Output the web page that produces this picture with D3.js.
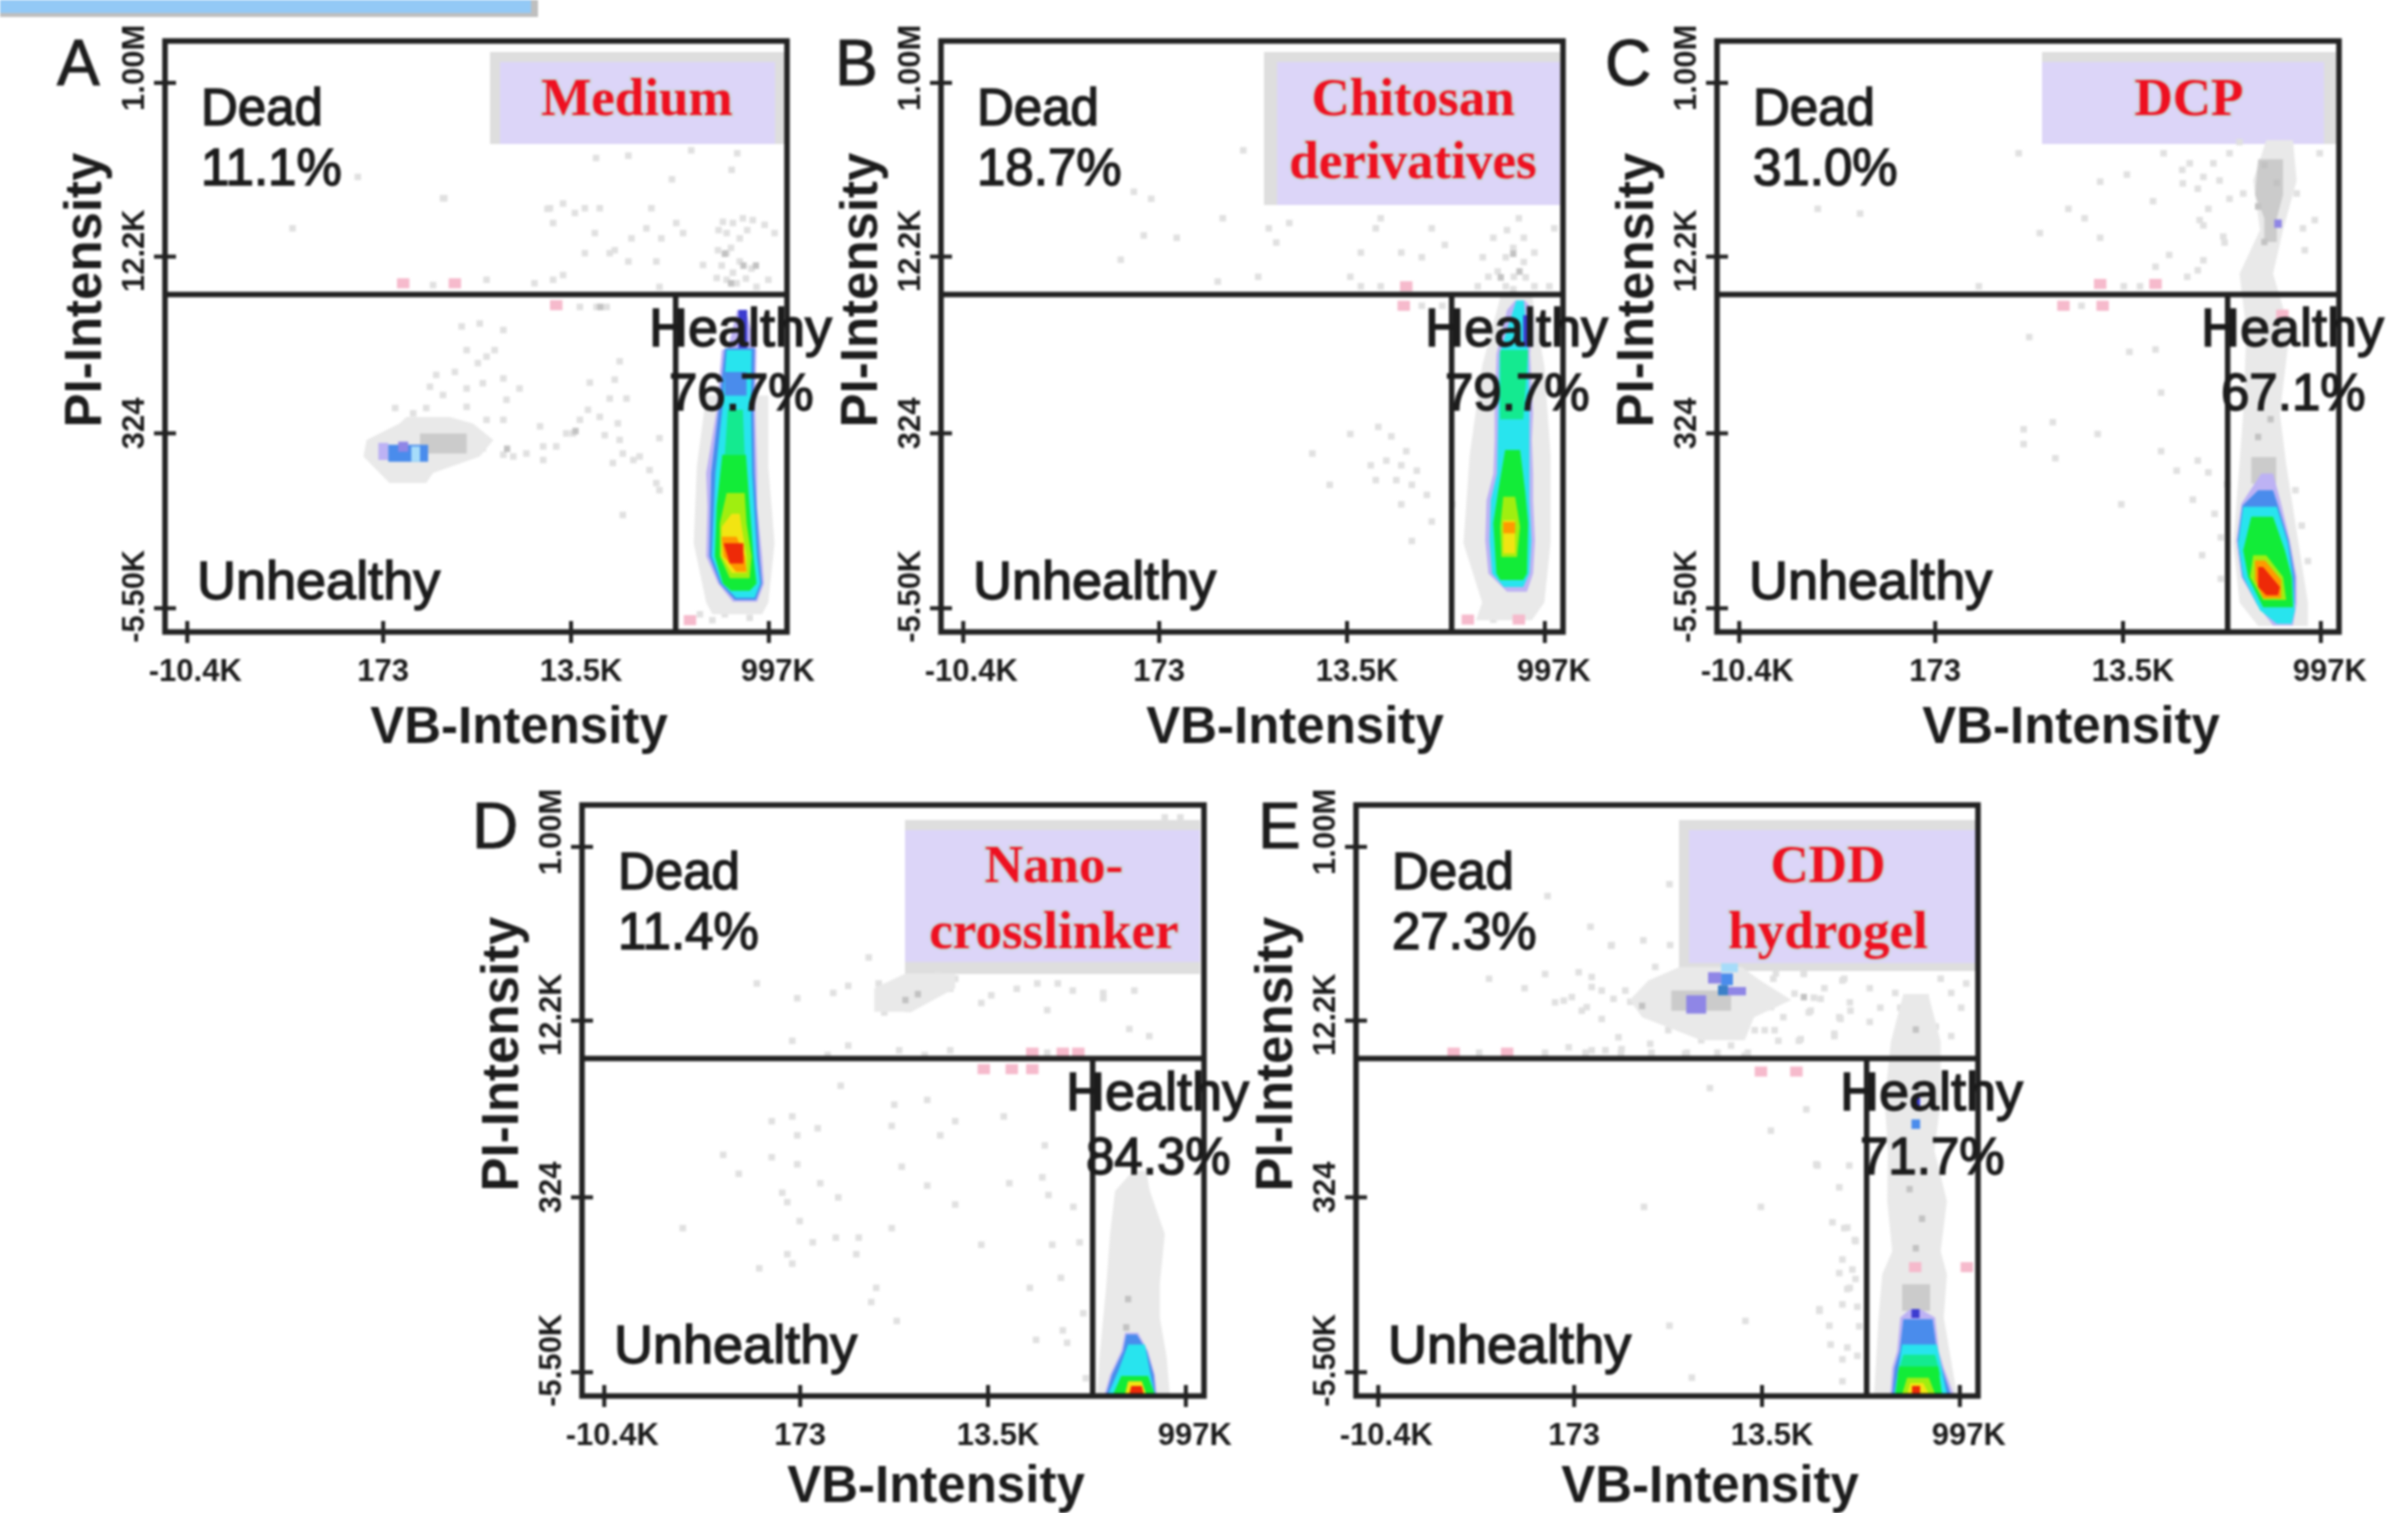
<!DOCTYPE html>
<html>
<head>
<meta charset="utf-8">
<script src="https://cdn.jsdelivr.net/npm/d3@7"></script>
<style>
html, body { margin: 0; padding: 0; background: #fff; }
svg { display: block; filter: blur(1px); }
text { font-family: "Liberation Sans", Arial, sans-serif; fill: #1c1c1c; }
</style>
</head>
<body>
<div id="chart"></div>
<script>
//data
//axes, all plots share the same channel positions (0-100 along each frame side)
var xTickValues = [3.5, 35, 65.2, 97],
    xTickLabels = ['-10.4K', '173', '13.5K', '997K'],
    yTickValues = [93, 63.6, 33.7, 4.1],
    yTickLabels = ['1.00M', '12.2K', '324', '-5.50K'];

var xGate = 82.1,
    yGate = 57.1;

var panelIds = ['A', 'B', 'C', 'D', 'E'],
    panelTreatments = [['Medium'], ['Chitosan', 'derivatives'], ['DCP'], ['Nano-', 'crosslinker'], ['CDD', 'hydrogel']],
    deadPercents = ['11.1%', '18.7%', '31.0%', '11.4%', '27.3%'],
    healthyPercents = ['76.7%', '79.7%', '67.1%', '84.3%', '71.7%'];

//single events [x, y]
var dotsA = [[44.7,73.4],[61.9,71.7],[64,72.5],[65.9,70.9],[67.5,71.7],[69.9,71.7],[62.4,69.2],[78.2,71.7],[69.1,67.5],[82.2,69.2],[83.3,67.5],[77.4,68.3],[75,66.6],[79.8,66.6],[72.3,64.6],[71.5,64.1],[67.5,64.1],[74.5,62.7],[79,62.7],[64,60.4],[62.4,59.6],[59.4,59],[51.7,59.6],[79.5,58.4],[86.5,62.1],
    [89.7,69.4],[91.3,69.2],[92.9,70],[94.5,69.7],[88.9,64.6],[90.3,64.1],[92.4,62.7],[94.3,61.5],[90.3,59.6],[91.9,59],[88.7,59.9],[95.1,58.4],[97,59.6],[98,67.5],[96.4,68.9],[90.3,67.5],[92.4,66.6],[89.5,62],[91.3,60.8],[93.4,59.8],[89,68],[93.6,68],[91,65],
    [69.3,80.2],[74.5,80.6],[92,81],[91.1,78.2],[61.5,71.6],[44.9,73.4],[31,77],[20.5,68.3],[84.6,81.5],[81.5,76.6],
    [54.4,35.9],[51.7,35.9],[60.3,34.8],[64.5,33.6],[66.7,35.9],[68,37.6],[69.9,36.4],[62.9,31.4],[60.8,31.4],[65.6,33.6],[58.1,30.2],[54.4,30],[56,29.7],[60.8,29.1],[51.1,31.1],[73.1,32.5],[73.6,30.2],[76.3,29.7],[77.9,27.4],[79,25.2],[79.5,24],[75.3,29.1],[72,28.6],[79.5,32.8],[72.8,35.3],[70.7,33.3],[73.1,45.8],[72.3,42.7],[68.3,42.2],[74.2,39.5],[71.5,39.5],[57,41.2],[54.9,39.3],[54.4,42.9],[51.1,42.1],[48.5,41.2],[46.6,44],[43.6,43.5],[44.7,40.1],[48.5,38.1],[42.6,41.5],[39.9,37],[37,37.9],[42,37.9],[50.3,45.5],[51.7,46.6],[53,47.7],[48.5,47.7],[50.6,52.2],[47.7,51.7],[54.4,51.1],[73.6,19.8],
    [43.1,58.7],[66.7,55],[69.4,55],[71,55],[88,2],[86,3],[90,3],[94,2.4]];
var dotsB = [[92.9,70],[93.7,66.7],[90.8,63.4],[93.7,62.6],[88.8,66.7],[87.1,63.4],[95.4,64.2],[92.1,60.1],[90.8,58.5],[88,60.1],[86.3,58.5],[95.4,58.5],[97.8,58.5],[78.9,68.3],[81,65.5],[77.3,63.4],[69.9,68.3],[67.5,64.2],[65.8,60.1],[74,64.2],[56,69.2],[52.7,68.3],[53.9,65.9],[45.3,70],[48.6,81.5],[37.9,66.7],[32.6,67.1],[28.9,63],[33.8,73.3],[31,74.5],[70.7,70],[44.5,59.3],[51,60.1],[98.6,68.3],[91,68],[92,65],[89.5,61],[94,60],[92,58],
    [70.3,34.7],[72.4,33.1],[74.8,30.6],[74,28.2],[71.6,29],[69.9,25.7],[73.2,25.7],[75.7,24.9],[69.1,28.2],[78.1,23.2],[76.5,27.3],[59.7,30.2],[65.8,33.5],[62.5,24.9],[74,21.6],[82.2,21.6],[78.9,18.7],[75.7,15.4],[67.5,58.5],[70.7,58.5],[77.3,55.2],[80.6,55.2],[88.8,2.1]];
var dotsC = [[76,79.3],[79.8,79.3],[82.4,81],[84,82.9],[78.2,77],[80.8,76.4],[77.3,75],[79,71.6],[77.6,69.7],[81.4,66.9],[82.4,73.3],[84.6,74.2],[96.1,69.7],[94.5,64.6],[94.2,68.3],[96.9,81],[93.2,74.2],[78.2,62.9],[77.3,61.2],[74.9,75.9],
    [48.5,81],[61.6,76.2],[65.9,77.4],[71.8,81],[74.8,78.2],[70.1,72.9],[56.5,71.6],[59.1,70],[51.9,67.5],[61.6,66.7],[72.7,63.8],[23,70.8],[16.2,71.6],[78.2,68.8],[75.6,60.1],[70.5,61.8],[81.6,65.9],[42.1,58.5],
    [50.2,49.9],[66.3,47.4],[70.5,47.8],[71.4,40.5],[54,35.5],[49.3,34.3],[49.3,31.8],[54.4,29.4],[71.4,30.6],[73.9,27.3],[65,21.6],[76.5,22.4],[77.3,29],[61.2,33.5],[65.4,58.5],[68,58.5],[58.6,55.2],[80,20],[82,25],[79,27],[81,16],[78,13],[81,9],[94,18],[95,12],[93,24],[92,7]];
var dotsD = [[47.7,69.8],[51,66.5],[53.5,68.2],[56,69.8],[59.2,68.9],[48.6,64.9],[60,70.6],[57.2,71.4],[51,69.8],[54.7,67.3],[49.4,68.2],[50,66],[52.5,65.5],[55,70],
    [34.6,67.3],[40.4,68.2],[42.8,69.4],[46.1,74.2],[28.1,69.8],[74.8,65.3],[69.9,68.9],[65.8,67.8],[64.2,66.5],[73.2,69.8],[78.9,68.6],[83.8,68.2],[88,62.1],[91.2,60.9],[83.8,67.3],[93.7,97.9],[96.2,97.9],[76.5,69.8],[33.8,60.1],[42.8,59.3],[51,58.5],[55.1,57.7],[39.5,57.7],[59.2,58.5],[88.8,68.6],[74.8,58.1],
    [41.6,52.5],[33.8,47.3],[30.5,46.5],[34.6,44.1],[37.9,45.3],[50.2,49.3],[55.5,50.1],[49.8,45.7],[57.6,44.1],[60,46.5],[67.8,47.3],[74.4,42.4],[22.7,40.8],[30.5,40.4],[34.6,39.2],[32.2,34.4],[38.3,36],[33,32.8],[25.2,37.6],[55.5,35.6],[60,32.4],[68.7,36],[35,29.6],[16.2,28.4],[49.8,28.4],[37.1,26],[40.8,26.8],[44.5,26.8],[33,24],[44.1,24],[64.2,25.6],[28.5,21.6],[33.8,22.4],[47.3,18.3],[75.6,25.6],[50.6,12.7],[46.5,15.9],[72,18.3],[77.3,11.1],[41.2,33.6],[51.4,38.8],[74,37],[75,34],[79,32],[80,26],[77,20],[80.6,14],[78,9],[73,9.5],[81,3]];
var dotsE = [[35.8,71.7],[37.9,70.9],[41.1,76.3],[46.2,77.1],[50.5,76.3],[33.4,66.9],[36.3,65.2],[39.5,63.8],[34.2,59],[37.9,58.5],[42.2,60.7],[47.3,59.6],[50.2,61.9],[55.5,60.2],[60.3,59.3],[62.5,57.6],[65.7,61.9],[71.5,60.4],[76.9,61.3],[79.5,65.2],[73.1,65.2],[78.2,70.3],[72,71.5],[67.5,71.5],[74.7,67.2],[77.9,63.8],[43.3,68.6],[39.5,68.6],[44.1,66.7],[48.1,72.6],[45.7,66.9],[37.9,69.2],[34.7,67.5],[37.1,65.8],[41.4,67.2],[70.5,68.1],[66.7,65.8],[67.3,61.9],[58.2,63.5],[60.9,62.4],[64.1,61.9],[52.9,57.9],[42.7,58.7],[40.1,58.5],[51.3,63],
    [67.1,70.6],[72,71.4],[73.6,67.4],[78.5,70.6],[82.6,69],[86.7,68.2],[91.6,67.4],[95.7,68.2],[97.3,65.7],[93.2,62.5],[88.3,63.3],[82.6,63.3],[77.7,64.1],[72.8,64.9],[68.7,64.1],[76.9,60.9],[71.2,60.1],[95.7,60.9],[98.1,69.8],[94,70.6],[87.5,65.7],[79.4,66.6],[84.3,65.7],[90.8,64.1],[75.3,69],[67.9,60.1],
    [30.8,84.6],[30.4,71.4],[21.4,70.6],[37.7,79.4],[32,66.6],[41,76.2],[50.4,86.6],[27.1,69],
    [56.9,52.1],[66.7,44.9],[72.4,48.5],[46.3,32],[65.1,32],[74,39.2],[78.5,28.4],[80.2,26.4],[74.5,14.7],[62.6,12.7],[54,3.1],[50.4,11.9],[76.1,11.9],[80.6,15.1],[77.7,20.8],[79.4,18.3],
    [19.8,58.1],[30.4,58.1],[36.9,58.1],[42.6,58.1],[47.5,58.1],[53.2,58.1],[58.1,58.1],[63,58.1],
    [74.2,39],[79.3,39],[77.7,35.3],[76.6,29.4],[79,28.5],[80.3,26.2],[78.2,23.1],[79.8,21.4],[80.3,19.8],[79,18.1],[78.2,15.5],[74.5,14.4],[80.9,11.8],[76.3,8.7],[79,8.2],[78.2,6.2],[80.6,6.8],[78.2,2.5]];

//darker grey events
var darkA = [[93,62],[91,59],[90,64],[95,62],[66,34],[55,31],[70,55]];
var darkB = [[92,64],[90,60],[93,61]];
var darkC = [[88,79],[90,76],[87,72],[88,66],[89,36],[87,33]];
var darkD = [[87.8,16.4],[87.5,11.6],[52,67],[54,68]];
var darkE = [[72,67.5],[46,66],[90,62],[89,35],[91,30],[90,25]];

//pink events
var pinkA = [[38.3,59],[46.6,59],[62.9,55.3],[84.4,2]];
var pinkB = [[74.8,58.5],[74.4,55.2],[84.7,2.1],[92.9,2.1]];
var pinkC = [[61.6,58.9],[70.5,58.9],[55.7,55.2],[62,55.2],[90.9,53.7]];
var pinkD = [[72.4,58.1],[77.3,58.1],[79.8,58.1],[64.6,55.3],[69.1,55.3],[72.4,55.3]];
var pinkE = [[15.7,58.1],[24.3,58.1],[65.1,54.9],[70.8,54.9],[89.9,21.8],[98.2,21.8]];

//density contours: [level, rows of [y, xLow, xHigh]], lower levels first
var densityA = [
    ['halo', [[40,87,97],[28,85.5,97],[15,85,98],[5,87,97],[3,88,96]]],
    ['halo', [[36.4,38.8,45.8],[35.3,37.7,49.5],[32.5,32.4,52.8],[29.7,31.9,50.6],[26.9,34.5,43.1],[25.2,36.1,42]]],
    ['shade', [[33.6,41,48.5],[30.2,41,48.5]]],
    ['lavender', [[32,34.3,35.9],[29.1,34.3,35.9]]],
    ['blue', [[31.7,35.9,42.3],[28.8,35.9,42.3]]],
    ['violet', [[32.2,37.5,39.1],[30.5,37.5,39.1]]],
    ['sky', [[31.4,39.6,41],[28.8,39.6,41]]],
    ['lavender', [[54.5,92,93.4],[48,90.5,95],[47.7,89.5,95.1],[37.6,88.7,94.9],[26.9,87,95.2],[21.2,87.2,95.2],[12.8,87,96],[8.2,88.9,96.3],[5.1,91.3,95.2]]],
    ['navy', [[54.5,92.2,93.6],[48,92.2,93.6]]],
    ['blue', [[48,90,94.8],[37.6,89,94.6],[26.9,87.8,94.8],[12.8,87.5,95.6],[8.2,89.2,96],[5.4,91.6,95]]],
    ['cyan', [[47.7,90.3,94.3],[37.6,89.6,94.2],[26.9,88.5,94.4],[12.8,87.9,95.2],[8.2,89.5,95.7],[5.8,91.8,94.8]]],
    ['blue', [[44,90,93.5],[40,90,93.5]]],
    ['spring', [[37.6,90.5,92.9],[30,90,93.2]]],
    ['green', [[30,89.6,93.4],[21.2,88.7,94],[12.8,88.4,94.6],[8.2,89.7,95.1],[7,91,94]]],
    ['lime', [[23.5,90.3,93.2],[18.4,89.2,93.5],[12.8,89.2,94.3],[9.1,90.8,94]]],
    ['yellow', [[20,91.1,92.4],[17.8,89.5,92.7],[12.8,89.5,93.5],[10,91.1,93.5]]],
    ['orange', [[16.1,89.5,91.9],[12.8,89.8,93.2],[10.2,91.8,93.5]]],
    ['red', [[15,89.8,93],[11.6,90.8,93]]]
];
var densityB = [
    ['halo', [[57,90,95],[45,87,97],[30,85,98],[15,84,98],[5,87,97],[2,86,95]]],
    ['lavender', [[56.1,92.3,93.9],[54.5,91,95.2],[47.1,89.3,94.7],[37,89,95.2],[32.5,89,95],[26.8,88.8,95.2],[22.3,87.7,95.2],[15.5,87.5,95.5],[9.9,88,95.2],[6.8,91,94.2]]],
    ['cyan', [[56.1,92.5,93.7],[47.1,89.8,94.4],[37,89.6,94.6],[26.8,89.4,94.6],[22.3,88.4,94.6],[15.5,88.2,94.9],[9.9,88.6,94.6],[7.6,90.5,93.6]]],
    ['navy', [[53.6,93.6,95.2],[48.3,93.6,95.2]]],
    ['spring', [[47.7,89.9,94.4],[35.8,89.9,93.6]]],
    ['cyan', [[36,89.6,94.6],[31.5,89.8,94.2]]],
    ['green', [[30.8,90.7,93.1],[24,89.6,93.9],[18.4,88.8,94.4],[9.9,89.3,94.2],[8.8,89.9,93.6]]],
    ['lime', [[22.9,90.4,92.3],[17.8,89.9,93.1],[12.7,90.1,92.6]]],
    ['yellow', [[18.9,90.4,92.3],[13.3,90.4,92.3]]],
    ['orange', [[18.6,90.4,92.3],[16.7,90.4,92.3]]]
];
var densityC = [
    ['halo', [[83.2,88.3,92.6],[76.4,86.2,93.2],[68,87.3,91],[60.6,84,89.4],[51,85.1,92.1],[37,84.6,90.5],[28.5,84,91.5],[15,83,93.5],[5,84,95],[1,87,95]]],
    ['shade', [[80,87,91],[74,86.5,91],[70,88,90],[66,88,90]]],
    ['shade', [[29.6,85.9,89.9],[25.1,85.9,89.9]]],
    ['violet', [[69.8,89.6,90.8],[68.4,89.6,90.8]]],
    ['lavender', [[26.8,87.5,89.4],[21.7,84.3,90.7],[15.5,83.5,92.1],[9.3,84.3,93.2],[4.8,86.7,93.2],[1.1,89.4,92.6]]],
    ['blue', [[24,87,89.4],[21.4,84.5,90.2],[15.5,83.7,91.9],[9.3,84.5,92.9],[4.8,87,92.9]]],
    ['cyan', [[21.2,84.6,90],[15,83.8,91.8],[9.3,84.6,92.6],[3.7,87.3,92.9],[1.4,90,92.4]]],
    ['green', [[19.5,85.9,89.4],[13.8,84.6,91.3],[9.3,85.4,92.4],[4.2,87.8,92.6]]],
    ['lime', [[13,86.2,88.3],[9.3,85.7,91],[5.4,87.8,91.5]]],
    ['orange', [[12.1,86.5,88.1],[8.8,86.5,90.7],[5.7,87.8,90.7]]],
    ['red', [[11,87,87.8],[7.6,87,90.5],[6.2,88.3,90.2]]]
];
var densityD = [
    ['halo', [[38.1,88.6,90.7],[34.7,85.7,91.3],[27.4,84.9,93.7],[18.9,84.3,92.9],[13.3,83.8,92.9],[6.5,83.2,94],[0.3,82.8,94.5]]],
    ['halo', [[71.5,52,60],[69,47,60],[65,47,53]]],
    ['lavender', [[10.7,87.3,89.4],[7.6,86.7,91],[3.6,84.9,92.1],[0.3,84,92.4]]],
    ['blue', [[10.4,87.5,89.2],[7.6,87,90.8],[3.6,85.2,91.9],[0.3,84.3,92.2]]],
    ['cyan', [[8.7,87.8,90.5],[4.2,86.2,91.3],[0.3,84.6,92.1]]],
    ['green', [[3.4,86.7,91],[0.3,85.4,92.1]]],
    ['yellow', [[2.5,87.8,90],[0.3,87.3,90.7]]],
    ['red', [[1.7,88.3,90],[0.3,88,90.3]]]
];
var densityE = [
    ['halo', [[68,88,92],[60,86,94],[50,85,94],[41.5,85.5,93],[33,85.4,95],[24.5,86.2,94],[20.6,84.6,95],[13.3,84,94.5],[0.3,83.3,96.6]]],
    ['halo', [[72.6,52,62],[70.3,47,65],[67,44,70],[64.1,46,64],[60.2,55.5,62.5]]],
    ['shade', [[68.6,50.7,60.3],[65.2,50.7,60.3]]],
    ['shade', [[18.9,87.8,92.3],[14.4,87.8,92.3]]],
    ['navy', [[50.5,89.3,90.7],[48.9,89.3,90.7]]],
    ['blue', [[46.8,89.3,90.7],[45.2,89.3,90.7]]],
    ['sky', [[73.2,58.7,61.4],[71.7,58.7,61.4]]],
    ['violet', [[71.7,56.6,58.7],[69.8,56.6,58.7]]],
    ['violet', [[69.2,59.8,62.7],[67.8,59.8,62.7]]],
    ['violet', [[67.8,53.1,56.3],[64.7,53.1,56.3]]],
    ['blue', [[71.5,58.7,60.6],[69.5,58.7,60.6]]],
    ['navy2', [[69.5,58.2,59.8],[67.8,58.2,59.8]]],
    ['lavender', [[14.7,89.1,90.7],[13.3,87.5,93.1],[7.6,87,93.7],[4.8,86.2,94.5],[0.3,85.9,96.1]]],
    ['navy', [[14.7,89.3,90.6],[13.2,89.3,90.6]]],
    ['blue', [[13,88,92.7],[7.6,87.4,93.4],[4.8,86.6,94.2],[0.3,86.2,95.6]]],
    ['cyan', [[8.7,87.8,93.4],[0.3,86.5,95]]],
    ['spring', [[7,88,93.1],[3.5,87,94]]],
    ['green', [[5,87.3,93.6],[0.3,86.7,94.2]]],
    ['lime', [[3.1,88.6,92.1],[0.3,87.8,93.1]]],
    ['yellow', [[2.2,89.1,91.2],[0.3,88.6,92.1]]],
    ['red', [[1.7,89.4,90.7],[0.3,89.4,90.7]]]
];

var dotsByPanel = [dotsA, dotsB, dotsC, dotsD, dotsE],
    darkByPanel = [darkA, darkB, darkC, darkD, darkE],
    pinkByPanel = [pinkA, pinkB, pinkC, pinkD, pinkE],
    densityByPanel = [densityA, densityB, densityC, densityD, densityE];

//styles
var levelColors = {
    halo: '#e9e9e9', shade: '#cbcbcb', lavender: '#bdb2f4', violet: '#8f86e6', navy: '#3c3cd0', navy2: '#3a80c8',
    blue: '#4a8cec', sky: '#a6dcfa', cyan: '#28e4ee', spring: '#14ea90', green: '#12ec38', lime: '#a0ee10',
    yellow: '#f2e412', orange: '#ff9a00', red: '#ee2a08'
};

//sizes, one entry per panel
var outerW = 2408,
    outerH = 1513,
    frameW = 622,
    frameH = 591,
    panelPos = [[165, 41], [941, 41], [1717, 41], [582, 805], [1356, 805]],
    boxRect = [[325, 11, 620, 103], [323, 11, 619, 164], [325, 11, 619, 103], [323, 15, 618, 169], [323, 15, 621, 166]],
    boxInset = [[10, 0, 10, 0], [13, 0, 0, 0], [0, 0, 12, 0], [0, 0, 0, 12], [10, 0, 0, 8]],
    treatmentY = [[74, 137], [74, 137], [74, 137], [77, 143], [77, 143]],
    idX = [-108, -106, -112, -110, -98],
    idY = [44, 44, 44, 43, 43],
    xTitleY = [111, 111, 111, 106, 106],
    xLabelDx = [8, 0, 10, 9],
    yLabelDy = [-15, -6, -10, -12];

var svg = d3.select('#chart').append('svg')
    .attr('width', outerW)
    .attr('height', outerH);

function buildCornerBar() {
    svg.append('rect').attr('x', 0).attr('y', 0).attr('width', 538).attr('height', 17).attr('fill', '#bfbfbf');
    svg.append('rect').attr('x', 0).attr('y', 0).attr('width', 531).attr('height', 13).attr('fill', '#93c9f6');
}

function addCells(g, data, color, w, h, xScale, yScale) {
    g.selectAll(null)
        .data(data)
        .enter()
        .append('rect')
        .attr('x', function(d) { return xScale(d[0] - w / 2); })
        .attr('y', function(d) { return yScale(d[1] + h / 2); })
        .attr('width', function() { return xScale(w) - xScale(0); })
        .attr('height', function() { return yScale(0) - yScale(h); })
        .attr('fill', color);
}

function addLabel(g, x, y, str, size) {
    return g.append('text')
        .attr('x', x)
        .attr('y', y)
        .attr('font-size', size)
        .attr('stroke', '#1c1c1c')
        .attr('stroke-width', 1.5)
        .text(str);
}

function buildPanel(i) {
    var g = svg.append('g')
        .attr('transform', 'translate(' + panelPos[i][0] + ', ' + panelPos[i][1] + ')');

    var xScale = d3.scaleLinear().domain([0, 100]).range([0, frameW]),
        yScale = d3.scaleLinear().domain([0, 100]).range([frameH, 0]);

    //treatment box
    var box = boxRect[i], inset = boxInset[i];
    g.append('rect')
        .attr('x', box[0]).attr('y', box[1])
        .attr('width', box[2] - box[0]).attr('height', box[3] - box[1])
        .attr('fill', '#dedede');
    g.append('rect')
        .attr('x', box[0] + inset[0]).attr('y', box[1] + 10)
        .attr('width', box[2] - box[0] - inset[0] - inset[2])
        .attr('height', box[3] - box[1] - 10 - inset[3])
        .attr('fill', '#dcd5f8');

    addCells(g, dotsByPanel[i], '#e0e0e0', 1.05, 1.1, xScale, yScale);

    var area = d3.area()
        .y(function(d) { return yScale(d[0]); })
        .x0(function(d) { return xScale(d[1]); })
        .x1(function(d) { return xScale(d[2]); });

    densityByPanel[i].forEach(function(band) {
        g.append('path')
            .attr('d', area(band[1]))
            .attr('fill', levelColors[band[0]]);
    });

    addCells(g, darkByPanel[i], '#c2c2c2', 1, 1.1, xScale, yScale);
    addCells(g, pinkByPanel[i], '#f6bacc', 2, 1.7, xScale, yScale);

    //axes
    var xAxis = d3.axisBottom(xScale)
        .tickValues(xTickValues)
        .tickFormat(function(d, k) { return xTickLabels[k]; })
        .tickSizeOuter(0)
        .tickSizeInner(11);
    var xAxisG = g.append('g')
        .attr('transform', 'translate(0,' + frameH + ')')
        .call(xAxis);
    xAxisG.selectAll('line').attr('y1', -11).attr('stroke', '#222').attr('stroke-width', 4);
    xAxisG.selectAll('text')
        .attr('x', function(d, k) { return xLabelDx[k]; })
        .attr('y', 49)
        .attr('dy', 0)
        .attr('font-size', 31)
        .attr('font-weight', 'bold')
        .attr('font-family', '"Liberation Sans", Arial, sans-serif');

    var yAxis = d3.axisLeft(yScale)
        .tickValues(yTickValues)
        .tickFormat(function(d, k) { return yTickLabels[k]; })
        .tickSizeOuter(0)
        .tickSizeInner(11);
    var yAxisG = g.append('g').call(yAxis);
    yAxisG.selectAll('line').attr('x2', 11).attr('x1', -11).attr('stroke', '#222').attr('stroke-width', 4);
    yAxisG.selectAll('text')
        .attr('x', 0)
        .attr('y', 0)
        .attr('dy', 0)
        .attr('text-anchor', 'middle')
        .attr('transform', function(d, k) { return 'translate(-21,' + yLabelDy[k] + ') rotate(-90)'; })
        .attr('font-size', 31)
        .attr('font-weight', 'bold')
        .attr('font-family', '"Liberation Sans", Arial, sans-serif');
    g.selectAll('.domain').remove();

    //frame and gates
    g.append('rect')
        .attr('width', frameW)
        .attr('height', frameH)
        .attr('fill', 'none')
        .attr('stroke', '#222')
        .attr('stroke-width', 5.5);
    g.append('line')
        .attr('x1', xScale(0)).attr('x2', xScale(100))
        .attr('y1', yScale(yGate)).attr('y2', yScale(yGate))
        .attr('stroke', '#222').attr('stroke-width', 5.5);
    g.append('line')
        .attr('x1', xScale(xGate)).attr('x2', xScale(xGate))
        .attr('y1', yScale(yGate)).attr('y2', yScale(0))
        .attr('stroke', '#222').attr('stroke-width', 5.5);

    //texts
    g.append('text')
        .attr('x', idX[i])
        .attr('y', idY[i])
        .attr('font-size', 64)
        .attr('stroke', '#1c1c1c')
        .attr('stroke-width', 1)
        .text(panelIds[i]);

    addLabel(g, 36, 84, 'Dead', 51);
    addLabel(g, 36, 144, deadPercents[i], 51);
    addLabel(g, 32, frameH - 33, 'Unhealthy', 54);
    addLabel(g, 484, 305, 'Healthy', 54);
    addLabel(g, 504, 369, healthyPercents[i], 51);

    g.append('text')
        .attr('x', 354)
        .attr('y', frameH + xTitleY[i])
        .attr('text-anchor', 'middle')
        .attr('font-size', 51)
        .attr('font-weight', 'bold')
        .text('VB-Intensity');
    g.append('text')
        .attr('transform', 'translate(-64,249) rotate(-90)')
        .attr('text-anchor', 'middle')
        .attr('font-size', 51)
        .attr('font-weight', 'bold')
        .text('PI-Intensity');

    panelTreatments[i].forEach(function(line, k) {
        g.append('text')
            .attr('x', 472)
            .attr('y', treatmentY[i][k])
            .attr('text-anchor', 'middle')
            .attr('font-size', 53)
            .attr('font-weight', 'bold')
            .attr('stroke', '#cdd6dc')
            .attr('stroke-width', 4)
            .attr('paint-order', 'stroke')
            .style('font-family', '"Liberation Serif", "Times New Roman", serif')
            .style('fill', '#ee1020')
            .text(line);
    });
}

buildCornerBar();
panelIds.forEach(function(id, i) { buildPanel(i); });
</script>
</body>
</html>
